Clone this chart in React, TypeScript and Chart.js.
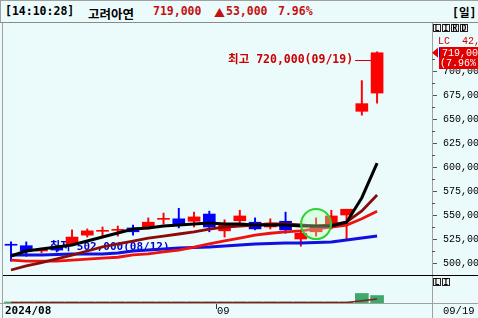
import React, { useEffect, useRef } from "react";
import { Chart, registerables } from "chart.js";

Chart.register(...registerables);

// ---------------- data ----------------
const DATES = [
  "08/12", "08/13", "08/14", "08/16", "08/19", "08/20", "08/21", "08/22", "08/23",
  "08/26", "08/27", "08/28", "08/29", "08/30", "09/02", "09/03", "09/04", "09/05",
  "09/06", "09/09", "09/10", "09/11", "09/12", "09/13", "09/19",
];
const OPEN = [
  519000, 518000, 512500, 516500, 520000, 529000, 533000, 534000, 536500, 537500,
  545500, 546000, 543500, 551000, 533500, 544000, 542500, 537500, 543500, 525000,
  532500, 538500, 550000, 658000, 677000,
];
const HIGH = [
  522000, 522000, 515500, 518000, 534500, 535500, 537500, 538500, 539500, 547000,
  552000, 557000, 553000, 554000, 545000, 555000, 547000, 546000, 553000, 534500,
  547000, 555000, 556000, 690000, 720000,
];
const LOW = [
  502000, 507000, 510500, 511500, 519000, 527000, 527000, 528000, 529000, 535500,
  540500, 536500, 537500, 532500, 527000, 541500, 534500, 535500, 531000, 517500,
  528000, 535500, 524000, 654000, 666500,
];
const CLOSE = [
  518500, 512500, 514000, 513500, 527000, 533500, 533500, 534500, 532500, 542500,
  546000, 540500, 548000, 537500, 540500, 549000, 535500, 541500, 534500, 531000,
  537500, 549000, 556000, 666000, 719000,
];
const MA5 = [
  507300, 512500, 514600, 516700, 518700, 522900, 527100, 531200, 535400, 536500,
  538500, 539600, 540600, 541700, 540600, 540600, 539600, 539600, 539600, 538500,
  538500, 538500, 542500, 568000, 604000,
];
const MA10 = [
  492700, 496900, 500500, 504200, 508300, 512500, 516700, 519800, 522900, 526000,
  528100, 530200, 532300, 535400, 537500, 538500, 539600, 540600, 540600, 539600,
  538500, 539600, 542700, 554200, 570800,
];
const MA20 = [
  503000, 502000, 502000, 502000, 503000, 504000, 505000, 506000, 508500, 509500,
  511500, 513500, 516500, 520000, 523000, 526000, 529000, 531000, 532500, 533500,
  535500, 537500, 539500, 546000, 554000,
];
const MA60 = [
  508300, 508300, 508300, 508900, 509400, 509400, 509400, 510400, 512500, 513500,
  514600, 515600, 516100, 516700, 517700, 518700, 519800, 520300, 520800, 520800,
  521400, 521900, 524000, 526000, 528100,
];
const VOLUME = [
  52, 41, 38, 35, 60, 55, 42, 40, 38, 47, 44, 58, 40, 52, 39, 45, 37, 33, 41, 48,
  36, 44, 62, 1020, 800,
];
const VOLUME_MA = [
  45, 45, 44, 44, 45, 46, 46, 45, 44, 45, 45, 46, 45, 45, 44, 44, 43, 42, 42, 43,
  42, 42, 60, 250, 420,
];
const Y_TICKS = [500000, 525000, 550000, 575000, 600000, 625000, 650000, 675000, 700000];
const X_TICKS = [-0.4, 13.5];
const X_TICK_LABELS = ["2024/08", "09"];
const LAST_DATE = "09/19";
const MARK_INDEX = 20;
const MARK_PRICE = 540500;
const TIME = "14:10:28";
const NAME = "고려아연";
const CHANGE = "53,000";
const RATE = "7.96%";
const PERIOD = "일";
const LC_TEXT = "LC  42,000";

// ---------------- style ----------------
const BG = "#ebfbfb";
const UP = "#ff0000";
const DOWN = "#0000ff";
const MONO = '"DejaVu Sans Mono", "Noto Sans CJK KR", monospace';
const AXF = '"Liberation Mono", "DejaVu Sans Mono", monospace';
const X_MIN = -0.525;
const X_MAX = 27.6;

const fmt = (v: number) => v.toLocaleString("en-US");
const xy = (arr: number[]) => arr.map((v, i) => ({ x: i, y: v }));

function drawIcons(ctx: CanvasRenderingContext2D, letters: string[], x0: number, y0: number) {
  letters.forEach((l, i) => {
    const bx = x0 + i * 9;
    ctx.fillStyle = "#f4f4f4";
    ctx.fillRect(bx, y0, 8, 8);
    ctx.strokeStyle = "#222";
    ctx.lineWidth = 1;
    ctx.strokeRect(bx + 0.5, y0 + 0.5, 7, 7);
    ctx.fillStyle = "#000";
    ctx.font = `bold 8px ${MONO}`;
    ctx.textAlign = "center";
    ctx.textBaseline = "middle";
    ctx.fillText(l, bx + 4, y0 + 4.5);
  });
}

const overlay = {
  id: "overlay",
  beforeDatasetsDraw(chart: any) {
    const { ctx, scales } = chart;
    const { x, y } = scales;
    let li = 0;
    LOW.forEach((v, i) => {
      if (v < LOW[li]) li = i;
    });
    ctx.save();
    ctx.font = `bold 11px ${MONO}`;
    ctx.fillStyle = "#0000cc";
    ctx.textAlign = "left";
    ctx.textBaseline = "middle";
    ctx.fillText(`최저 ${fmt(LOW[li])}(${DATES[li]})`, x.getPixelForValue(li) + 39, y.getPixelForValue(LOW[li]) - 14);
    ctx.restore();
  },
  afterDatasetsDraw(chart: any) {
    const { ctx, scales } = chart;
    const { x, y } = scales;
    let hi = 0;
    HIGH.forEach((v, i) => {
      if (v > HIGH[hi]) hi = i;
    });
    const hx = x.getPixelForValue(hi);
    const hy = Math.round(y.getPixelForValue(HIGH[hi]) + 8);
    ctx.save();
    ctx.font = `bold 11.5px ${MONO}`;
    ctx.fillStyle = "#cc0000";
    ctx.textAlign = "right";
    ctx.textBaseline = "middle";
    ctx.fillText(`최고 ${fmt(HIGH[hi])}(${DATES[hi]})`, hx - 24, hy);
    ctx.strokeStyle = "#cc0000";
    ctx.lineWidth = 1;
    ctx.beginPath();
    ctx.moveTo(hx - 22, hy + 0.5);
    ctx.lineTo(hx - 6, hy + 0.5);
    ctx.stroke();

    // green marker circle
    const cx = x.getPixelForValue(MARK_INDEX);
    const cy = y.getPixelForValue(MARK_PRICE);
    ctx.beginPath();
    ctx.arc(cx, cy, 15, 0, Math.PI * 2);
    ctx.fillStyle = "rgba(190,255,190,0.35)";
    ctx.fill();
    ctx.strokeStyle = "#2fd22f";
    ctx.lineWidth = 2;
    ctx.stroke();
    ctx.restore();
  },
  afterDraw(chart: any) {
    const { ctx, chartArea: ca, scales, width: W, height: H } = chart;
    const { y } = scales;
    const R = ca.right;
    ctx.save();
    // frame
    ctx.strokeStyle = "#a0a0a0";
    ctx.lineWidth = 1;
    ctx.beginPath();
    ctx.moveTo(ca.left - 0.5, 0);
    ctx.lineTo(ca.left - 0.5, H);
    ctx.moveTo(R + 0.5, 0);
    ctx.lineTo(R + 0.5, H);
    ctx.moveTo(0, ca.bottom + 0.5);
    ctx.lineTo(W, ca.bottom + 0.5);
    ctx.stroke();
    ctx.strokeStyle = "#000";
    ctx.beginPath();
    ctx.moveTo(ca.left, y.bottom + 0.5);
    ctx.lineTo(W, y.bottom + 0.5);
    ctx.stroke();

    // minor ticks
    ctx.strokeStyle = "#555";
    ctx.beginPath();
    for (let k = 0; k < Y_TICKS.length; k++) {
      const v = Y_TICKS[k] + 12500;
      const py = Math.round(y.getPixelForValue(v)) + 0.5;
      ctx.moveTo(R, py);
      ctx.lineTo(R + 3, py);
    }
    ctx.stroke();

    // icons
    drawIcons(ctx, ["L", "I", "R", "D"], R + 1, 1);
    drawIcons(ctx, ["L", "I"], R + 1, y.bottom + 3);

    // current price marker
    const last = CLOSE[CLOSE.length - 1];
    const py = y.getPixelForValue(last);
    ctx.font = `10px ${AXF}`;
    ctx.textAlign = "left";
    ctx.textBaseline = "middle";
    ctx.fillStyle = "#cc0000";
    ctx.fillText(LC_TEXT, R + 6, py - 11);

    ctx.fillStyle = "#e00000";
    ctx.fillRect(R + 7, Math.round(py - 6), W - R - 7, 22);
    ctx.beginPath();
    ctx.moveTo(R, py);
    ctx.lineTo(R + 6, py - 5);
    ctx.lineTo(R + 6, py + 5);
    ctx.closePath();
    ctx.fill();
    ctx.fillStyle = "#0000ff";
    ctx.fillRect(R + 7, Math.round(py - 5), 1, 9);
    ctx.fillStyle = "#ffffff";
    ctx.fillText(fmt(last), R + 10, py + 0.5);
    ctx.fillText(`(${RATE})`, R + 8, py + 10.5);

    // last date
    ctx.fillStyle = "#000";
    ctx.font = `10.5px ${AXF}`;
    ctx.fillText(LAST_DATE, R + 11, ca.bottom + 8.5);
    ctx.restore();
  },
};

export default function App() {
  const ref = useRef<HTMLCanvasElement>(null);

  useEffect(() => {
    const colors = OPEN.map((o, i) => (CLOSE[i] >= o ? UP : DOWN));
    const chart = new Chart(ref.current as HTMLCanvasElement, {
      type: "bar",
      data: {
        datasets: [
          {
            type: "bar",
            label: "body",
            data: OPEN.map((o, i) => ({ x: i, y: [o, CLOSE[i]] })) as any,
            backgroundColor: colors,
            barThickness: 12,
            minBarLength: 1,
            grouped: false,
            borderWidth: 0,
            yAxisID: "y",
            order: 10,
          },
          {
            type: "bar",
            label: "wick",
            data: LOW.map((l, i) => ({ x: i, y: [l, HIGH[i]] })) as any,
            backgroundColor: colors,
            barThickness: 1.3,
            grouped: false,
            borderWidth: 0,
            yAxisID: "y",
            order: 11,
          },
          {
            type: "line",
            label: "MA60",
            data: xy(MA60),
            borderColor: "#1010e0",
            borderWidth: 3,
            pointRadius: 0,
            tension: 0,
            yAxisID: "y",
            order: 4,
          },
          {
            type: "line",
            label: "MA20",
            data: xy(MA20),
            borderColor: "#ee1111",
            borderWidth: 2.8,
            pointRadius: 0,
            tension: 0,
            yAxisID: "y",
            order: 3,
          },
          {
            type: "line",
            label: "MA10",
            data: xy(MA10),
            borderColor: "#8b0a0a",
            borderWidth: 2.8,
            pointRadius: 0,
            tension: 0,
            yAxisID: "y",
            order: 2,
          },
          {
            type: "line",
            label: "MA5",
            data: xy(MA5),
            borderColor: "#000000",
            borderWidth: 3,
            pointRadius: 0,
            tension: 0,
            yAxisID: "y",
            order: 1,
          },
          {
            type: "bar",
            label: "volume",
            data: xy(VOLUME),
            backgroundColor: "#3caa6e",
            barThickness: 13,
            minBarLength: 1,
            grouped: false,
            borderWidth: 0,
            yAxisID: "yv",
            order: 12,
          },
          {
            type: "line",
            label: "volumeMA",
            data: xy(VOLUME_MA),
            borderColor: "#8b1a1a",
            borderWidth: 1.5,
            pointRadius: 0,
            tension: 0,
            yAxisID: "yv",
            order: 5,
          },
        ] as any,
      },
      options: {
        responsive: false,
        maintainAspectRatio: false,
        animation: false,
        events: [],
        layout: { padding: { left: 3, right: 0, top: 0, bottom: 0 } },
        plugins: { legend: { display: false }, tooltip: { enabled: false } },
        scales: {
          x: {
            type: "linear",
            position: "bottom",
            min: X_MIN,
            max: X_MAX,
            offset: false,
            afterBuildTicks: (s: any) => {
              s.ticks = X_TICKS.map((v) => ({ value: v }));
            },
            afterFit: (s: any) => {
              s.height = 15;
              s.paddingLeft = 0;
              s.paddingRight = 0;
            },
            ticks: {
              autoSkip: false,
              maxRotation: 0,
              minRotation: 0,
              align: "start",
              padding: -4,
              color: "#000",
              font: (c: any) =>
                c.index === 0
                  ? { family: MONO, size: 11, weight: "bold" }
                  : { family: AXF, size: 10.5 },
              callback: (_v: any, i: number) => X_TICK_LABELS[i],
            },
            grid: {
              drawOnChartArea: false,
              drawTicks: true,
              tickLength: 6,
              color: (c: any) => (c.index === 0 ? "rgba(0,0,0,0)" : "#333"),
              offset: false,
            },
            border: { display: false },
          },
          y: {
            type: "linear",
            position: "right",
            stack: "panels",
            stackWeight: 252,
            min: 487500,
            max: 750000,
            afterBuildTicks: (s: any) => {
              s.ticks = Y_TICKS.map((v) => ({ value: v }));
            },
            afterFit: (s: any) => {
              s.width = 46;
              s.paddingTop = 0;
              s.paddingBottom = 0;
            },
            ticks: {
              autoSkip: false,
              padding: 6,
              color: "#000",
              font: { family: AXF, size: 10 },
              callback: (v: any) => fmt(Number(v)),
            },
            grid: { drawOnChartArea: false, drawTicks: true, tickLength: 5, color: "#555" },
            border: { display: false },
          },
          yv: {
            type: "linear",
            position: "right",
            stack: "panels",
            stackWeight: 28,
            min: 0,
            max: 3000,
            afterFit: (s: any) => {
              s.width = 46;
              s.paddingTop = 0;
              s.paddingBottom = 0;
            },
            ticks: { display: false },
            grid: { display: false },
            border: { display: false },
          },
        },
      } as any,
      plugins: [overlay],
    });
    return () => chart.destroy();
  }, []);

  const span = (left: number, color: string, font: string, text: string) => (
    <span
      style={{
        position: "absolute",
        left,
        top: 3,
        lineHeight: "18px",
        height: 18,
        whiteSpace: "pre",
        color,
        font,
      }}
    >
      {text}
    </span>
  );

  return (
    <div
      style={{
        position: "fixed",
        left: 0,
        top: 0,
        width: 478,
        height: 318,
        background: BG,
        overflow: "hidden",
      }}
    >
      <div
        style={{
          position: "absolute",
          left: 0,
          top: 0,
          width: 478,
          height: 23,
          boxSizing: "border-box",
          borderTop: "1px solid #a0a0a0",
          borderLeft: "1px solid #a0a0a0",
          borderBottom: "1px solid #8a8a8a",
          background: BG,
        }}
      >
        {span(4, "#000", `bold 11.5px ${MONO}`, `[${TIME}]`)}
        {span(87, "#000", `bold 12.5px "Noto Sans CJK KR", sans-serif`, NAME)}
        {span(152, "#c41010", `bold 11.5px ${MONO}`, fmt(CLOSE[CLOSE.length - 1]))}
        {span(213, "#c41010", `bold 11px "Noto Sans CJK KR", sans-serif`, "▲")}
        {span(225, "#c41010", `bold 11.5px ${MONO}`, CHANGE)}
        {span(277, "#c41010", `bold 11.5px ${MONO}`, RATE)}
        {span(451, "#000", `bold 11.5px ${MONO}`, `[${PERIOD}]`)}
      </div>
      <canvas
        ref={ref}
        width={478}
        height={295}
        style={{ position: "absolute", left: 0, top: 23, display: "block" }}
      />
    </div>
  );
}
